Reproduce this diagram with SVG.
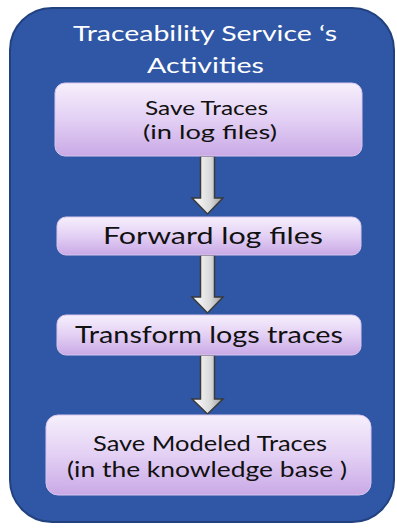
<svg xmlns="http://www.w3.org/2000/svg" width="397" height="529" viewBox="0 0 397 529">
<defs>
<linearGradient id="boxg" x1="0" y1="0" x2="0" y2="1">
<stop offset="0" stop-color="#f6effc"/>
<stop offset="0.5" stop-color="#e3d0f4"/>
<stop offset="1" stop-color="#c9a9e6"/>
</linearGradient>
<linearGradient id="arrg" x1="0" y1="0" x2="1" y2="0">
<stop offset="0" stop-color="#ffffff"/>
<stop offset="0.6" stop-color="#d9d9d9"/>
<stop offset="1" stop-color="#9a9a9a"/>
</linearGradient>
<style>
.box{fill:url(#boxg);stroke:#d8c6ee;stroke-width:1}
.arr{fill:url(#arrg);stroke:#3a3a3a;stroke-width:1.5;stroke-linejoin:miter}
.t{font-family:Lato,"Open Sans","Liberation Sans",sans-serif;fill:#111;text-anchor:middle}
.title{font-family:Lato,"Open Sans","Liberation Sans",sans-serif;fill:#ffffff;text-anchor:middle;font-size:21px}
</style>
</defs>
<g id="container">
<rect x="10" y="8" width="384" height="514" rx="42" ry="42" fill="#2f57a6" stroke="#22417f" stroke-width="2"/>
<text class="title" x="205" y="41" textLength="264" lengthAdjust="spacingAndGlyphs">Traceability Service ‘s</text>
<text class="title" x="205.5" y="73" textLength="117" lengthAdjust="spacingAndGlyphs">Activities</text>
</g>
<g id="connectors">
<path class="arr" d="M200.5,156 L214.5,156 L214.5,198 L223,198 L207.5,214 L192,198 L200.5,198 Z"/>
<path class="arr" d="M200.5,255 L214.5,255 L214.5,297 L223,297 L207.5,313 L192,297 L200.5,297 Z"/>
<path class="arr" d="M200.5,355 L214.5,355 L214.5,399 L223,399 L207.5,414 L192,399 L200.5,399 Z"/>
</g>
<g id="n1">
<rect class="box" x="55" y="83" width="307" height="73" rx="10"/>
<text class="t" x="206.5" y="115" font-size="19.5" textLength="123" lengthAdjust="spacingAndGlyphs">Save Traces</text>
<text class="t" x="210" y="139" font-size="19.5" textLength="134" lengthAdjust="spacingAndGlyphs">(in log files)</text>
</g>
<g id="n2">
<rect class="box" x="57" y="217" width="304" height="38" rx="9"/>
<text class="t" x="213" y="244" font-size="23" textLength="220" lengthAdjust="spacingAndGlyphs">Forward log files</text>
</g>
<g id="n3">
<rect class="box" x="57" y="315" width="304" height="40" rx="9"/>
<text class="t" x="209" y="343" font-size="24" textLength="268" lengthAdjust="spacingAndGlyphs">Transform logs traces</text>
</g>
<g id="n4">
<rect class="box" x="46" y="415" width="325" height="80" rx="12"/>
<text class="t" x="210" y="451" font-size="21" textLength="234" lengthAdjust="spacingAndGlyphs">Save Modeled Traces</text>
<text class="t" x="207" y="477" font-size="21" textLength="280" lengthAdjust="spacingAndGlyphs">(in the knowledge base )</text>
</g>
</svg>
